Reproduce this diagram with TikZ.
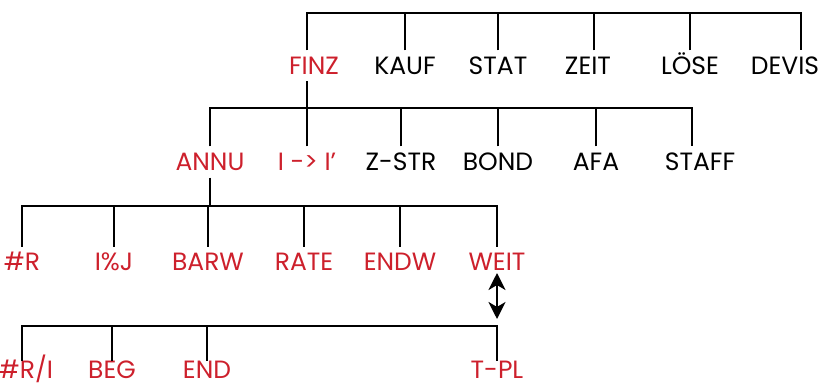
\documentclass[tikz,border=0pt]{standalone}
\usepackage{fontspec}
\setmainfont{Poppins}
\usetikzlibrary{arrows.meta}
\definecolor{menured}{RGB}{205,32,44}
\tikzset{
  key/.style={inner sep=0pt, text height=17pt, text depth=0pt, outer ysep=7pt},
  softkey/.style={key, text=menured},
  tree/.style={line width=2.6pt, line join=miter},
  swaparrow/.style={tree, arrows={Stealth[length=17pt,width=17pt,inset=5pt]-Stealth[length=17pt,width=17pt,inset=5pt]}},
}
\begin{document}
\begin{tikzpicture}[x=1pt, y=-1pt, font=\fontsize{25}{25}\selectfont]
	\useasboundingbox (0,0) rectangle (819,385);
	\coordinate (top1) at (0,13); \coordinate (top2) at (0,108);
	\coordinate (top3) at (0,206); \coordinate (top4) at (0,326);
	% main menu
	\node[softkey] (finz) at (314,66) {FINZ};
	\node[key] (kauf) at (405,66) {KAUF};
	\node[key] (stat) at (498,66) {STAT};
	\node[key] (zeit) at (588,66) {ZEIT};
	\node[key] (loese) at (690,66) {LÖSE};
	\node[key] (devis) at (785,66) {DEVIS};
	\draw[tree] ([xshift=-7pt]finz.north) |- ([xshift=16pt]devis.north |- top1) -- ([xshift=16pt]devis.north);
	\foreach \n in {kauf,stat,loese} \draw[tree] (\n.north) -- (\n.north |- top1);
	\draw[tree] ([xshift=6pt]zeit.north) -- ([xshift=6pt]zeit.north |- top1);
	% FINZ
	\node[softkey] (annu) at (210,162) {ANNU};
	\node[softkey] (iconv) at (307,162) {I -> I’};
	\node[key] (zstr) at (401,162) {Z-STR};
	\node[key] (bond) at (498,162) {BOND};
	\node[key] (afa) at (596,162) {AFA};
	\node[key] (staff) at (700,162) {STAFF};
	\draw[tree] ([xshift=-7pt]finz.south) -- ([xshift=-7pt]finz.south |- top2);
	\draw[tree] (annu.north) |- ([xshift=-8pt]staff.north |- top2) -- ([xshift=-8pt]staff.north);
	\foreach \n in {iconv,zstr,bond,afa} \draw[tree] (\n.north) -- (\n.north |- top2);
	% ANNU
	\node[softkey] (nr) at (22,262) {\#R};
	\node[softkey] (izj) at (114,262) {I\%J};
	\node[softkey] (barw) at (208,262) {BARW};
	\node[softkey] (rate) at (304,262) {RATE};
	\node[softkey] (endw) at (400,262) {ENDW};
	\node[softkey] (weit) at (497,262) {WEIT};
	\draw[tree] (annu.south) -- (annu.south |- top3);
	\draw[tree] (nr.north) |- (weit.north |- top3) -- (weit.north);
	\foreach \n in {izj,barw,rate,endw} \draw[tree] (\n.north) -- (\n.north |- top3);
	% WEIT
	\tikzset{key/.append style={outer ysep=1pt}}
	\node[softkey] (nri) at (26,370) {\#R/I};
	\node[softkey] (beg) at (112,370) {BEG};
	\node[softkey] (end) at (207,370) {END};
	\node[softkey] (tpl) at (497,370) {T-PL};
	\draw[tree] ([xshift=-4pt]nri.north) |- (tpl.north |- top4) -- (tpl.north);
	\foreach \n in {beg,end} \draw[tree] (\n.north) -- (\n.north |- top4);
	\draw[swaparrow, shorten <=-4.5pt, shorten >=7pt] (weit.south) -- (tpl.north |- top4);
\end{tikzpicture}
\end{document}
